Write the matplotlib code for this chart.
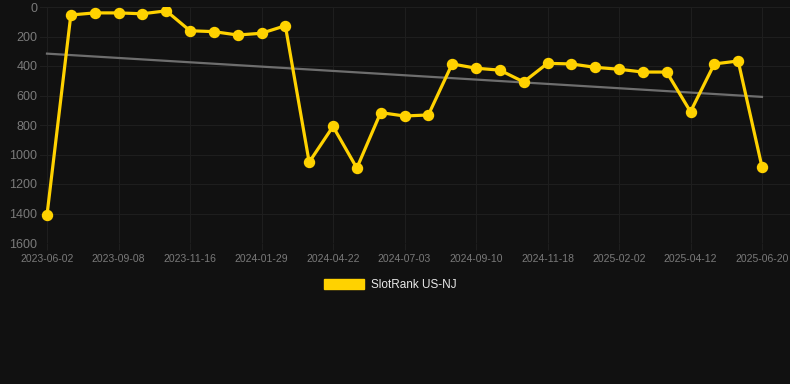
import matplotlib
matplotlib.use("Agg")
import matplotlib.pyplot as plt
from matplotlib.patches import Patch
import numpy as np

plt.rcParams['font.family'] = ['Liberation Sans', 'DejaVu Sans']

# Data
ranks = [1410, 54, 40, 40, 46, 26, 161, 167, 190, 178, 127,
         1052, 810, 1092, 716, 739, 732, 386, 415, 428, 508,
         382, 386, 409, 422, 441, 441, 710, 386, 366, 1085]
tick_labels = ["2023-06-02", "2023-09-08", "2023-11-16", "2024-01-29",
               "2024-04-22", "2024-07-03", "2024-09-10", "2024-11-18",
               "2025-02-02", "2025-04-12", "2025-06-20"]
series_name = "SlotRank US-NJ"

BG = "#111111"
YEL = "#FFD200"
GRID = "#1e1e1e"

W, H = 790, 384
fig = plt.figure(figsize=(W / 100, H / 100), dpi=100, facecolor=BG)
ax_left, ax_right, ax_top, ax_bot = 40, 790, 7, 243
ax = fig.add_axes([ax_left / W, 1 - ax_bot / H, (ax_right - ax_left) / W, (ax_bot - ax_top) / H])
ax.set_facecolor(BG)

x = np.arange(len(ranks))
y = np.array(ranks, dtype=float)

# trend line (linear regression)
coef = np.polyfit(x, y, 1)
ax.plot(x, np.polyval(coef, x), color="#6e6e6e", lw=1.6, zorder=2)

ax.plot(x, y, color=YEL, lw=2.3, marker="o", markersize=7.2, zorder=3)

# x scaling: index 0 at px 47, index 30 at px 762
ppi = (762 - 47) / (len(ranks) - 1)
ax.set_xlim(-(47 - ax_left) / ppi, (len(ranks) - 1) + (ax_right - 762) / ppi)
ax.set_ylim(1600, 0)

ticks = x[::3]
ax.set_xticks(ticks)
ax.set_xticklabels(tick_labels)
ax.set_yticks(np.arange(0, 1601, 200))

ax.grid(True, color=GRID, lw=0.8)
ax.set_axisbelow(True)
for s in ax.spines.values():
    s.set_visible(False)
ax.tick_params(axis="x", colors=GRID, labelcolor="#7a7a7a", labelsize=7.5, length=5, width=0.8, pad=3)
ax.tick_params(axis="y", length=0, labelcolor="#7a7a7a", labelsize=9, pad=2)

fig.legend(handles=[Patch(facecolor=YEL, edgecolor=YEL, label=series_name)],
           loc="center", bbox_to_anchor=(390 / W, 1 - 285 / H), frameon=False,
           labelcolor="#e8e8e8", fontsize=8.5, handlelength=3.4, handleheight=1.0,
           handletextpad=0.6)

fig.savefig("out.png", dpi=100, facecolor=BG)
